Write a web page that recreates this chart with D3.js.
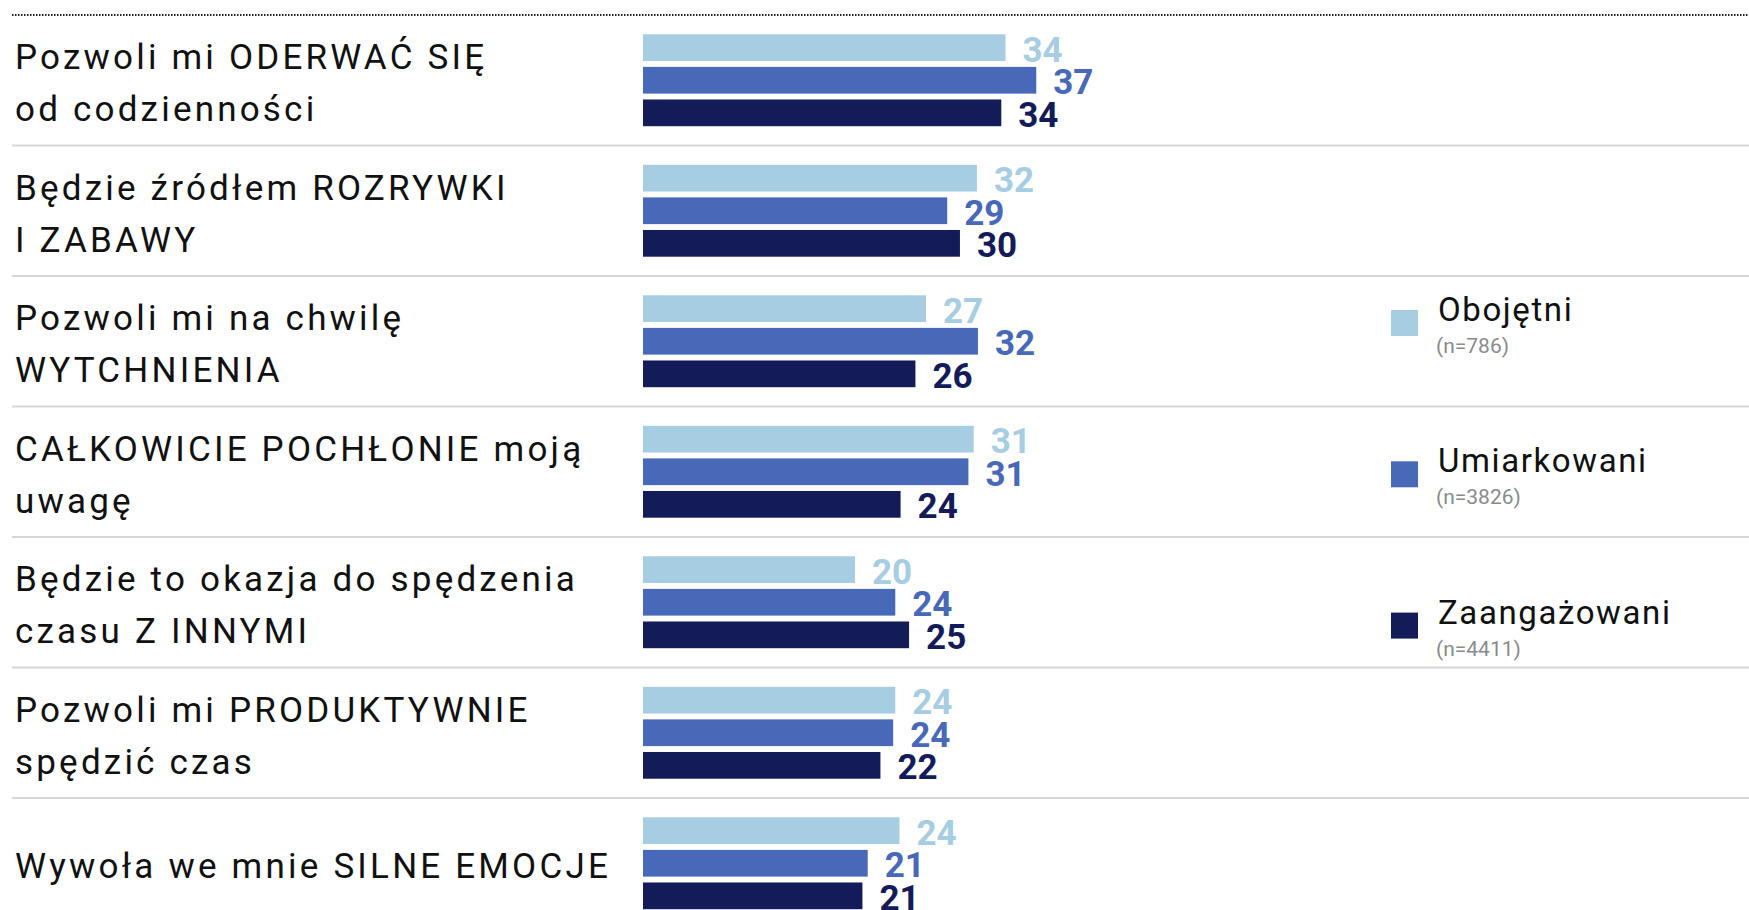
<!DOCTYPE html>
<html>
<head>
<meta charset="utf-8">
<script src="https://cdn.jsdelivr.net/npm/d3@7"></script>
<style>
  body { margin: 0; background: #fff; }
  svg { display: block; }
</style>
</head>
<body>
<script>
// Dane
const categories = [
  "Pozwoli mi ODERWAĆ SIĘ\nod codzienności",
  "Będzie źródłem ROZRYWKI\nI ZABAWY",
  "Pozwoli mi na chwilę\nWYTCHNIENIA",
  "CAŁKOWICIE POCHŁONIE moją\nuwagę",
  "Będzie to okazja do spędzenia\nczasu Z INNYMI",
  "Pozwoli mi PRODUKTYWNIE\nspędzić czas",
  "Wywoła we mnie SILNE EMOCJE"
];
const series = ["Obojętni", "Umiarkowani", "Zaangażowani"];
const seriesN = ["(n=786)", "(n=3826)", "(n=4411)"];
const obojetni     = [34.2, 31.5, 26.7, 31.2, 20.0, 23.8, 24.2];
const umiarkowani  = [37.1, 28.7, 31.6, 30.7, 23.8, 23.6, 21.2];
const zaangazowani = [33.8, 29.9, 25.7, 24.3, 25.1, 22.4, 20.7];
const colors = ["#a6cde2", "#4868b8", "#131b58"];

const values = [obojetni, umiarkowani, zaangazowani];
const W = 1749, H = 910;

const svg = d3.select("body").append("svg")
  .attr("width", W)
  .attr("height", H);

// Skale
const y = d3.scaleBand().domain(categories).range([15, 15 + 7 * 130.5]);
const ySub = d3.scaleBand().domain(series).range([19.3, 111.2]).paddingInner(0.18);
const x = d3.scaleLinear().domain([0, 100]).range([643, 1703]);
const color = d3.scaleOrdinal().domain(series).range(colors);

// Linia kropkowana na gorze
svg.append("line")
  .attr("x1", 12).attr("x2", W)
  .attr("y1", 15).attr("y2", 15)
  .attr("stroke", "#222")
  .attr("stroke-width", 2)
  .attr("stroke-dasharray", "1.5,1.5");

const group = svg.selectAll(".grp")
  .data(categories)
  .enter().append("g")
  .attr("class", "grp")
  .attr("transform", d => "translate(0," + y(d) + ")");

// Separatory
group.append("line")
  .attr("x1", 12).attr("x2", W)
  .attr("y1", y.bandwidth()).attr("y2", y.bandwidth())
  .attr("stroke", "#d6d6d6")
  .attr("stroke-width", 2);

// Etykiety kategorii
group.append("text")
  .attr("font-family", "Roboto, sans-serif")
  .attr("font-size", 35)
  .attr("letter-spacing", 3.2)
  .attr("fill", "#111")
  .each(function(d) {
    const lines = d.split("\n");
    const t = d3.select(this);
    lines.forEach((ln, i) => {
      t.append("tspan")
        .attr("x", 15)
        .attr("y", y.bandwidth() / 2 + 15 + (i - (lines.length - 1) / 2) * 52)
        .text(ln);
    });
  });

// Slupki
group.each(function(cat, ci) {
  const g = d3.select(this);
  const rows = series.map((s, si) => ({s: s, v: values[si][ci]}));

  g.selectAll("rect")
    .data(rows)
    .enter().append("rect")
    .attr("x", x(0))
    .attr("y", d => ySub(d.s))
    .attr("width", d => x(d.v) - x(0))
    .attr("height", ySub.bandwidth())
    .attr("fill", d => color(d.s));

  g.selectAll(".val")
    .data(rows)
    .enter().append("text")
    .attr("class", "val")
    .attr("x", d => x(d.v) + 17)
    .attr("y", d => ySub(d.s) + ySub.bandwidth() / 2 + 14)
    .attr("font-family", "Roboto, sans-serif")
    .attr("font-weight", 700)
    .attr("font-size", 35)
    .attr("fill", d => color(d.s))
    .text(d => d3.format(".0f")(d.v));
});

// Legenda
const legend = svg.selectAll(".leg")
  .data(series)
  .enter().append("g")
  .attr("class", "leg")
  .attr("transform", (d, i) => "translate(1391," + (310 + i * 151.3) + ")");

legend.append("rect")
  .attr("width", 27).attr("height", 26)
  .attr("fill", d => color(d));

legend.append("text")
  .attr("x", 47).attr("y", 11)
  .attr("font-family", "Roboto, sans-serif")
  .attr("font-size", 33)
  .attr("letter-spacing", 1.6)
  .attr("fill", "#111")
  .text(d => d);

legend.append("text")
  .attr("x", 45).attr("y", 43)
  .attr("font-family", "Roboto, sans-serif")
  .attr("font-size", 21)
  .attr("fill", "#8a8a8a")
  .text((d, i) => seriesN[i]);
</script>
</body>
</html>
